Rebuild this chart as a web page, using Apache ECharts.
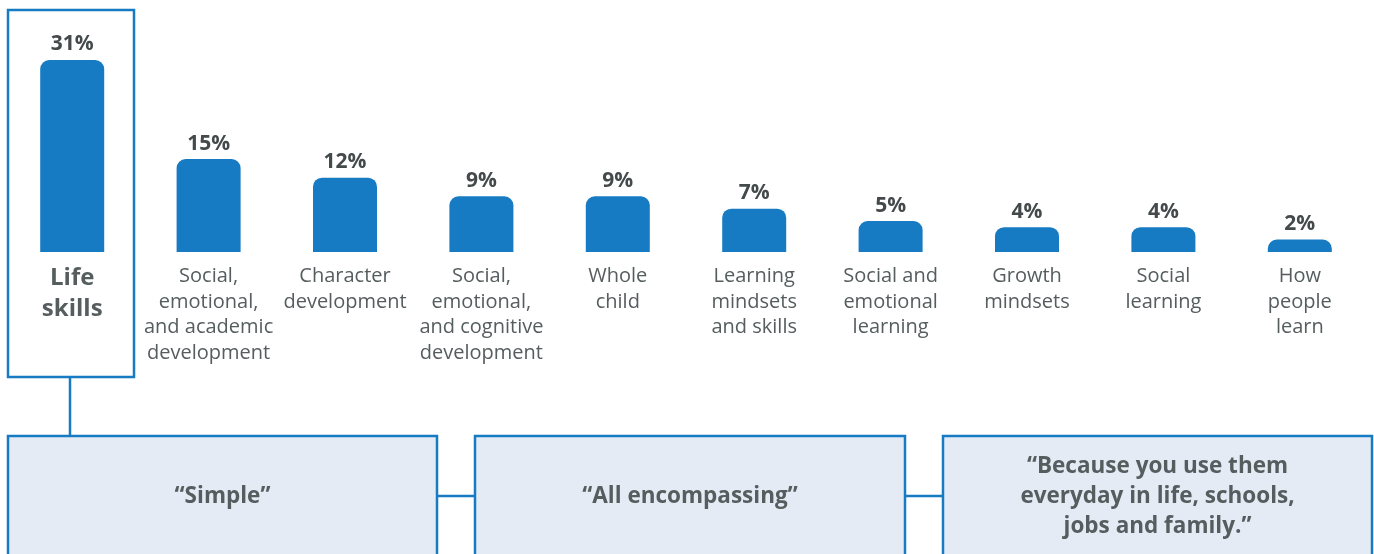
<!DOCTYPE html>
<html>
<head>
<meta charset="utf-8">
<script src="https://cdn.jsdelivr.net/npm/echarts@6/dist/echarts.min.js"></script>
<style>html,body{margin:0;padding:0;background:#fff}#c{width:1374px;height:554px}</style>
</head>
<body>
<div id="c"></div>
<script>
const categories = [
  'Life\nskills',
  'Social,\nemotional,\nand academic\ndevelopment',
  'Character\ndevelopment',
  'Social,\nemotional,\nand cognitive\ndevelopment',
  'Whole\nchild',
  'Learning\nmindsets\nand skills',
  'Social and\nemotional\nlearning',
  'Growth\nmindsets',
  'Social\nlearning',
  'How\npeople\nlearn'
];
const values = [31, 15, 12, 9, 9, 7, 5, 4, 4, 2];
const quotes = ['“Simple”', '“All encompassing”', '“Because you use them\neveryday in life, schools,\njobs and family.”'];

const FONT = '"Open Sans", Lato, sans-serif';
const BLUE = '#177bc3';
const TXT = '#555d5e';
const chart = echarts.init(document.getElementById('c'));

const boxes = [[8, 437], [475, 905], [943, 1372]];
const graphic = [
  {type:'rect', shape:{x:8, y:10, width:126, height:367}, style:{fill:'none', stroke:BLUE, lineWidth:2.5}},
  {type:'line', shape:{x1:70, y1:377, x2:70, y2:436}, style:{stroke:BLUE, lineWidth:2.5}},
  {type:'line', shape:{x1:437, y1:496, x2:475, y2:496}, style:{stroke:BLUE, lineWidth:2.5}},
  {type:'line', shape:{x1:905, y1:496, x2:943, y2:496}, style:{stroke:BLUE, lineWidth:2.5}}
];
boxes.forEach((b, i) => {
  graphic.push({type:'rect', shape:{x:b[0], y:436, width:b[1]-b[0], height:130}, style:{fill:'#e4ebf5', stroke:BLUE, lineWidth:2.5}});
  graphic.push({type:'text', x:(b[0]+b[1])/2, y:497, style:{text:quotes[i], fill:TXT, font:'bold 22.5px ' + FONT, align:'center', verticalAlign:'middle', lineHeight:30}});
});

chart.setOption({
  animation:false,
  grid:{left:4, right:6, top:60, bottom:302, containLabel:false},
  xAxis:{
    type:'category', data:categories,
    axisLine:{show:false}, axisTick:{show:false},
    axisLabel:{
      interval:0, margin:12, color:TXT, fontFamily:FONT, fontSize:20, lineHeight:25.5,
      formatter:(v, i) => i === 0 ? v.split('\n').map(s => '{hl|' + s + '}').join('\n') : v,
      rich:{hl:{fontWeight:'bold', fontSize:24, lineHeight:31, color:TXT, fontFamily:FONT, padding:[-3,0,0,0]}}
    }
  },
  yAxis:{type:'value', min:0, max:31, show:false, splitLine:{show:false}},
  series:[{
    type:'bar', data:values, barWidth:64,
    itemStyle:{color:BLUE, borderRadius:[9,9,0,0]},
    label:{show:true, position:'top', distance:5, formatter:'{c}%', color:'#444a4b', fontWeight:'bold', fontSize:21, fontFamily:FONT}
  }],
  graphic:graphic
});
</script>
</body>
</html>
